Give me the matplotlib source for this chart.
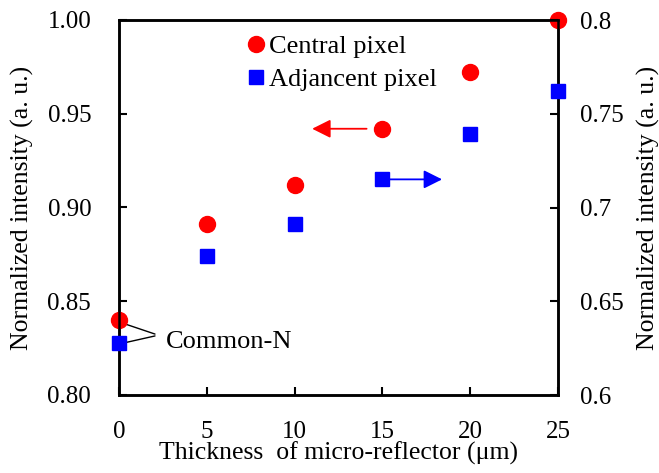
import numpy as np
import matplotlib
matplotlib.use("Agg")
import matplotlib.pyplot as plt

plt.rcParams['font.family'] = ['Liberation Serif', 'DejaVu Serif']

# Normalized intensity vs. micro-reflector thickness
thickness = [0, 5, 10, 15, 20, 25]
central = [0.840, 0.891, 0.912, 0.942, 0.972, 1.000]
adjacent = [0.628, 0.674, 0.691, 0.715, 0.739, 0.762]

left_ticks = [0.80, 0.85, 0.90, 0.95, 1.00]
right_ticks = [0.6, 0.65, 0.7, 0.75, 0.8]
x_ticks = [0, 5, 10, 15, 20, 25]

fig = plt.figure(figsize=(6.59, 4.73), dpi=100)
ax = fig.add_axes([119 / 659, 1 - 395 / 473, 439 / 659, 375 / 473])
ax2 = ax.twinx()

fs = 18
ax.set_xlim(0, 25)
ax.set_ylim(0.80, 1.00)
ax2.set_ylim(0.6, 0.8)

ax.set_xticks(x_ticks)
ax.set_yticks(left_ticks)
ax.set_yticklabels([f"{v:.2f}" for v in left_ticks])
ax2.set_yticks(right_ticks)
ax2.set_yticklabels([f"{v:g}" for v in right_ticks])

for a in (ax, ax2):
    a.tick_params(direction='in', length=6, width=1.5, labelsize=fs)
    for s in a.spines.values():
        s.set_linewidth(1.8)
ax.tick_params(axis='y', pad=20)
ax.tick_params(axis='x', pad=19)
ax2.tick_params(axis='y', pad=16)

p1, = ax.plot(thickness, central, 'o', color='#ff0000', markersize=11.5,
              clip_on=False, zorder=5, label='Central pixel')
p2, = ax2.plot(thickness, adjacent, 's', color='#0000ff', markersize=9.5,
               clip_on=False, zorder=5, label='Adjancent pixel')

lab_fs = 18.5
ax.set_xlabel('Thickness  of micro-reflector (μm)', fontsize=lab_fs)
ax.set_ylabel('Normalized intensity (a. u.)', fontsize=lab_fs)
ax2.set_ylabel('Normalized intensity (a. u.)', fontsize=lab_fs)
ax.xaxis.set_label_coords(0.5, -0.155)
ax.yaxis.set_label_coords(-0.221, 0.5)
ax2.yaxis.set_label_coords(1.205, 0.5)
for lab in (ax.xaxis.label, ax.yaxis.label, ax2.yaxis.label):
    lab.set_va('center')
    lab.set_ha('center')

leg = ax2.legend([p1, p2], ['Central pixel', 'Adjancent pixel'],
                 loc='upper left', bbox_to_anchor=(0.265, 0.99), frameon=False,
                 fontsize=19, handletextpad=0.09, labelspacing=0.38,
                 borderaxespad=0, handlelength=0.8)

# arrows pointing to each series' axis
ax.annotate('', xy=(11.0, central[3]), xytext=(14.1, central[3]),
            arrowprops=dict(arrowstyle='-|>', color='#ff0000', lw=1.3,
                            mutation_scale=28, shrinkA=0, shrinkB=0))
ax2.annotate('', xy=(18.4, adjacent[3]), xytext=(15.4, adjacent[3]),
             arrowprops=dict(arrowstyle='-|>', color='#0000ff', lw=1.3,
                             mutation_scale=28, shrinkA=0, shrinkB=0))

# Common-N label with leader lines to the x=0 markers
ax.text(2.65, 0.8285, 'Common-N', fontsize=19, va='center', ha='left')
ax.annotate('', xy=(0.15, central[0] - 0.0015), xytext=(2.05, 0.8325),
            arrowprops=dict(arrowstyle='-', color='black', lw=1.0,
                            shrinkA=0, shrinkB=0))
ax2.annotate('', xy=(0.15, adjacent[0] - 0.0005), xytext=(2.05, 0.6315),
             arrowprops=dict(arrowstyle='-', color='black', lw=1.0,
                             shrinkA=0, shrinkB=0))

fig.savefig('out.png', dpi=100)
